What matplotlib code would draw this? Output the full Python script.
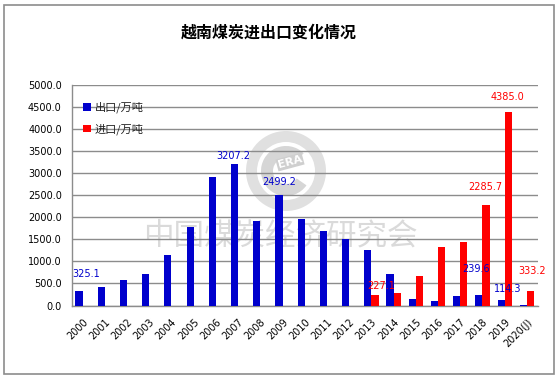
import matplotlib
matplotlib.use("Agg")
import matplotlib.pyplot as plt
from matplotlib.patches import Rectangle, Wedge
import numpy as np

plt.rcParams['font.family'] = ['Noto Sans CJK SC', 'DejaVu Sans']

years = ["2000", "2001", "2002", "2003", "2004", "2005", "2006", "2007", "2008", "2009",
         "2010", "2011", "2012", "2013", "2014", "2015", "2016", "2017", "2018", "2019", "2020(J)"]
exports = [325.1, 430, 581, 717, 1147, 1787, 2912, 3207.2, 1923, 2499.2,
           1970, 1690, 1504, 1256, 713, 147, 102, 215, 239.6, 114.3, 20]
imports = [0, 0, 0, 0, 0, 0, 0, 0, 0, 0,
           0, 0, 0, 227.1, 283, 674, 1323, 1437, 2285.7, 4385.0, 333.2]

# labelled points
labels_exp = [0, 7, 9, 18, 19]
labels_imp = [13, 18, 19, 20]
# pixel offsets (dx, dy above bar top) for labels
off_exp = {0: (7, 17), 7: (-1, 8), 9: (0, 13), 18: (-3, 26), 19: (7, 11)}
off_imp = {13: (6, 9.5), 18: (-1, 18), 19: (-1, 15), 20: (2, 20)}

W, H = 558, 377
fig = plt.figure(figsize=(W / 100, H / 100), dpi=100)
ax = fig.add_axes([71.5 / W, 1 - 305.5 / H, (538 - 71.5) / W, (305.5 - 84.7) / H])

blue = "#0000CC"
red = "#FF0000"
x = np.arange(len(years))
bw = 0.32
ax.bar(x - bw / 2, exports, bw, color=blue, zorder=3, label="出口/万吨")
ax.bar(x + bw / 2, imports, bw, color=red, zorder=3, label="进口/万吨")

ax.set_xlim(-0.5, len(years) - 0.5)
ax.set_ylim(0, 5000)
yt = np.arange(0, 5001, 500)
ax.set_yticks(yt)
ax.set_yticklabels([f"{v:.1f}" for v in yt], fontsize=7, family='DejaVu Sans')
ax.set_xticks(x)
ax.set_xticklabels(years, rotation=45, ha='right', rotation_mode='anchor', fontsize=7,
                   family='DejaVu Sans')
ax.tick_params(axis='both', length=0)
ax.tick_params(axis='y', pad=7)
ax.tick_params(axis='x', pad=8)
ax.grid(axis='y', color='#8c8c8c', linewidth=1, zorder=1)
ax.set_axisbelow(False)
for s in ['top', 'right']:
    ax.spines[s].set_visible(False)
for s in ['left', 'bottom']:
    ax.spines[s].set_color('#8c8c8c')
    ax.spines[s].set_linewidth(1)

pt = 72 / 100
for i in labels_exp:
    dx, dy = off_exp[i]
    ax.annotate(f"{exports[i]:.1f}", (x[i] - bw / 2, exports[i]), xytext=(dx * pt, dy * pt),
                textcoords='offset points', ha='center', va='center', color=blue,
                fontsize=7, family='DejaVu Sans', zorder=5)
for i in labels_imp:
    dx, dy = off_imp[i]
    ax.annotate(f"{imports[i]:.1f}", (x[i] + bw / 2, imports[i]), xytext=(dx * pt, dy * pt),
                textcoords='offset points', ha='center', va='center', color=red,
                fontsize=7, family='DejaVu Sans', zorder=5)

leg = ax.legend(loc='upper left', bbox_to_anchor=(0.009, 0.957), frameon=False, fontsize=8,
                handlelength=0.7, handleheight=0.7, handletextpad=0.3, labelspacing=0.9,
                borderaxespad=0.3)
for t in leg.get_texts():
    t.set_color('#222222')

# watermark (behind bars and grid)
ax.text(280 / W, 1 - 236 / H, "中国煤炭经济研究会", transform=fig.transFigure, fontsize=22,
        color='#dadada', ha='center', va='center', zorder=0.5)
lcx, lcy = 286, H - 171
ax.add_patch(Wedge((lcx, lcy), 40, 0, 360, width=11, transform=None, facecolor='#e0e0e0',
                   edgecolor='none', zorder=0.5))
ax.add_patch(Wedge((lcx, lcy), 25, 45, 325, width=12, transform=None, facecolor='#d6d6d6',
                   edgecolor='none', zorder=0.5))
ax.text(290 / W, 1 - 162 / H, "ERA", transform=fig.transFigure, fontsize=8, color='white',
        fontweight='bold', rotation=15, ha='center', va='center', zorder=0.6,
        family='DejaVu Sans',
        bbox=dict(boxstyle='square,pad=0.1', facecolor='#cfcfcf', edgecolor='none'))

fig.text(269 / W, 1 - 33 / H, "越南煤炭进出口变化情况", fontsize=11.5, fontweight='bold',
         ha='center', va='center', color='black')

border = Rectangle((4 / W, 3 / H), (554 - 4) / W, (373 - 4) / H, transform=fig.transFigure,
                   fill=False, edgecolor='#8c8c8c', linewidth=1.2)
fig.patches.append(border)

fig.savefig("out.png", dpi=100)
